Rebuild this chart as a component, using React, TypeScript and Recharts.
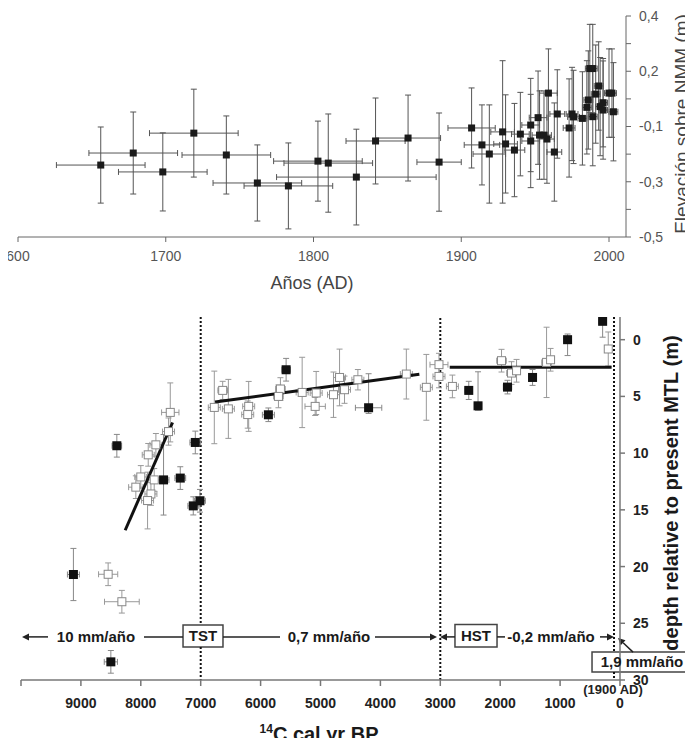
import React from "react";
import {
  ScatterChart, Scatter, XAxis, YAxis, ErrorBar,
  ReferenceLine, ReferenceArea, ReferenceDot,
} from "recharts";

const FONT = "Arial, 'Liberation Sans', Helvetica, sans-serif";

// ---- top panel: elevation vs years AD ----
const topYears = [
  1656, 1678, 1698, 1719, 1741, 1762, 1783, 1803, 1810, 1829,
  1842, 1864, 1885, 1907, 1914, 1919, 1928, 1930, 1936, 1940,
  1947, 1947, 1952, 1953, 1956, 1958, 1959, 1963, 1965, 1973,
  1975, 1976, 1982, 1985, 1986, 1987, 1989, 1989, 1991, 1993,
  1994, 1996, 1996, 2000, 2002, 2003,
];
const topElev = [
  -0.207, -0.158, -0.235, -0.077, -0.166, -0.28, -0.292, -0.191, -0.199, -0.256,
  -0.109, -0.097, -0.195, -0.056, -0.125, -0.162, -0.072, -0.121, -0.146, -0.081,
  -0.044, -0.109, -0.014, -0.085, -0.085, -0.101, 0.086, -0.154, 0.001, -0.056,
  0.001, -0.011, -0.017, 0.028, 0.058, 0.186, 0.186, -0.01, 0.082, 0.115,
  0.031, 0.047, 0.017, 0.086, 0.086, 0.01,
];
const topYearErr = [
  30, 30, 30, 30, 30, 30, 30, 30, 30, 54,
  20, 22, 15, 16, 12, 11, 8, 8, 7, 6,
  6, 6, 6, 5, 5, 5, 6, 5, 5, 4,
  4, 4, 3, 3, 3, 3, 3, 3, 3, 3,
  3, 3, 3, 3, 3, 3,
];
const topElevErr = [
  0.155, 0.167, 0.159, 0.179, 0.159, 0.155, 0.175, 0.163, 0.2, 0.195,
  0.175, 0.175, 0.2, 0.163, 0.163, 0.2, 0.29, 0.2, 0.19, 0.17,
  0.19, 0.19, 0.19, 0.18, 0.18, 0.18, 0.18, 0.2, 0.18, 0.2,
  0.19, 0.19, 0.19, 0.19, 0.2, 0.18, 0.18, 0.2, 0.2, 0.18,
  0.2, 0.18, 0.2, 0.18, 0.18, 0.2,
];
const topYearTicks = [1600, 1700, 1800, 1900, 2000];
const topElevTicks = [-0.5, -0.3875, -0.275, -0.1625, -0.05, 0.0625, 0.175, 0.2875, 0.4];
const topElevLabels = ["-0,5", "", "-0,3", "", "-0,1", "", "0,2", "", "0,4"];

// ---- bottom panel: depth vs 14C cal yr BP ----
const filledBP = [9125, 8500, 8400, 7620, 7341, 7090, 7124, 7012, 5870, 5574, 4197, 2525, 2370, 1878, 1460, 875, 290];
const filledDepth = [20.7, 28.4, 9.35, 12.36, 12.2, 9.06, 14.65, 14.2, 6.62, 2.65, 6.0, 4.47, 5.83, 4.18, 3.33, 0.0, -1.62];
const filledBPErr = [100, 110, 80, 90, 90, 90, 90, 90, 100, 70, 220, 60, 60, 70, 60, 60, 60];
const filledDepthErr = [
  [2.3, 2.3], [1, 1], [1, 1], [4, 3.1], [1, 1], [1, 1], [0.8, 0.8], [1, 1], [0.6, 0.6],
  [1, 1], [3, 0.5], [0.8, 0.8], [3, 0.4], [0.6, 0.6], [0.7, 0.7], [0.5, 1.4], [0.3, 1.4],
];

const openBP = [
  8545, 8316, 7508, 7537, 7748, 7876, 8000, 7776, 8083, 7831,
  7887, 6773, 6633, 6538, 6199, 6215, 5669, 5702, 5306, 5089,
  5072, 4783, 4682, 4599, 4376, 3567, 3233, 3022, 3022, 2798,
  1978, 1811, 1727, 1226, 1159, 196,
];
const openDepth = [
  20.68, 23.1, 6.41, 8.1, 9.27, 10.15, 12.1, 12.36, 13.0, 13.6,
  14.18, 5.97, 4.47, 6.1, 5.88, 6.6, 4.35, 5.0, 4.65, 5.88,
  4.7, 4.85, 3.33, 4.41, 3.53, 3.03, 4.2, 2.2, 3.24, 4.12,
  1.85, 2.94, 2.74, 2.0, 1.77, 0.82,
];
const openBPErr = [
  160, 290, 145, 100, 100, 100, 100, 100, 120, 100,
  100, 100, 80, 100, 100, 100, 80, 80, 100, 170,
  100, 100, 100, 100, 100, 100, 100, 150, 100, 100,
  80, 80, 60, 80, 60, 40,
];
const openDepthErr = [
  1, 1, 2.6, 1.2, 1, 1, 1, 1, 1, 1,
  2.5, 3.2, 0.8, 2.6, 2.2, 1.2, 1, 1, 3.1, 0.8,
  1.9, 2, 2.5, 1.2, 0.9, 2.2, 2.9, 1, 1, 1,
  1, 1, 1, 3.1, 1, 1.5,
];

const tstTrend = [{ x: 8261, y: 16.8 }, { x: 7470, y: 7.3 }];
const midTrend = [{ x: 6760, y: 5.5 }, { x: 3350, y: 3.05 }];
const hstTrend = [{ x: 2843, y: 2.44 }, { x: 140, y: 2.44 }];

const bpTicks = [0, 1000, 2000, 3000, 4000, 5000, 6000, 7000, 8000, 9000, 10000];
const depthTicks = [0, 5, 10, 15, 20, 25, 30];

const topData = topYears.map((x, i) => ({ x, y: topElev[i], ex: topYearErr[i], ey: topElevErr[i] }));
const filledData = filledBP.map((x, i) => ({ x, y: filledDepth[i], ex: filledBPErr[i], ey: filledDepthErr[i] }));
const openData = openBP.map((x, i) => ({ x, y: openDepth[i], ex: openBPErr[i], ey: openDepthErr[i] }));

const TopSquare = (p: any) => (
  <rect x={p.cx - 3.5} y={p.cy - 3.5} width={7} height={7} fill="#1b1b1b" />
);
const FilledSquare = (p: any) => (
  <rect x={p.cx - 4.5} y={p.cy - 4.5} width={9} height={9} fill="#111" />
);
const OpenSquare = (p: any) => (
  <rect x={p.cx - 4} y={p.cy - 4} width={8} height={8} fill="#fff" stroke="#888" strokeWidth={1} />
);

const arrowShape = (p: any) => {
  const { x1, y1, x2, y2 } = p;
  const a = Math.atan2(y2 - y1, x2 - x1);
  const bx = x2 - 7 * Math.cos(a);
  const by = y2 - 7 * Math.sin(a);
  const s = 3.5 * Math.sin(a);
  const c = 3.5 * Math.cos(a);
  return (
    <g>
      <line x1={x1} y1={y1} x2={bx} y2={by} stroke="#222" strokeWidth={1.5} />
      <polygon points={`${x2},${y2} ${bx - s},${by + c} ${bx + s},${by - c}`} fill="#222" />
    </g>
  );
};

const BpTick = ({ x, y, payload }: any) => {
  if (payload.value === 10000) return <g />;
  return (
    <g>
      {payload.value === 0 && (
        <text x={x - 7} y={y - 9} dy="0.35em" textAnchor="middle" fontSize={13} fontWeight={700} fontFamily={FONT} fill="#222">
          (1900 AD)
        </text>
      )}
      <text x={x} y={y} dy="0.71em" textAnchor="middle" fontSize={14} fontWeight={700} fontFamily={FONT} fill="#222">
        {payload.value}
      </text>
    </g>
  );
};

// axis titles, placed in chart pixels
const topXTitle = () => (
  <text x={312} y={283} dy="0.35em" textAnchor="middle" fontSize={18} fontFamily={FONT} fill="#444">
    Años (AD)
  </text>
);
const topYTitle = () => (
  <text x={681} y={124} dy="0.35em" textAnchor="middle" fontSize={19} fontFamily={FONT} fill="#444" transform="rotate(-90 681 124)">
    Elevación sobre NMM (m)
  </text>
);
const bottomXTitle = () => (
  <text x={319} y={441} textAnchor="middle" fontFamily={FONT} fontWeight={700} fill="#1a1a1a">
    <tspan fontSize={12} dy={-8}>14</tspan>
    <tspan fontSize={20} dy={8}>C cal yr BP</tspan>
  </text>
);
const bottomYTitle = () => (
  <text x={671} y={193} dy="0.35em" textAnchor="middle" fontSize={20} fontWeight={700} fontFamily={FONT} fill="#1a1a1a" transform="rotate(-90 671 193)">
    depth relative to present MTL (m)
  </text>
);

const annText = { fill: "#1a1a1a", fontSize: 15, fontWeight: 700, fontFamily: FONT, position: "center" as const };
const ax = { xAxisId: "bp", yAxisId: "depth" };
const ANN_Y = 26.2;

export default function App() {
  return (
    <div style={{ position: "relative", width: 693, height: 746, margin: -8, overflow: "hidden", background: "#fff" }}>
      <div style={{ position: "absolute", left: 0, top: 0 }}>
        <ScatterChart width={693} height={300} margin={{ top: 16, right: 0, bottom: 33, left: 18 }}>
          <XAxis
            type="number" dataKey="x" domain={[1600, 2011.5]} ticks={topYearTicks} allowDataOverflow height={30}
            axisLine={{ stroke: "#666" }} tickLine={{ stroke: "#666" }} tickSize={5} tickMargin={9}
            tick={{ fill: "#555", fontSize: 14, fontFamily: FONT }}
            tickFormatter={(v: number) => (v === 1600 ? "600" : String(v))}
            label={topXTitle}
          />
          <YAxis
            type="number" dataKey="y" orientation="right" width={67} domain={[-0.5, 0.4]} ticks={topElevTicks} allowDataOverflow
            axisLine={{ stroke: "#666" }} tickLine={{ stroke: "#666" }} tickSize={5} tickMargin={8}
            tick={{ fill: "#555", fontSize: 14, fontFamily: FONT, textAnchor: "start" }}
            tickFormatter={(v: number) => topElevLabels[topElevTicks.indexOf(v)] ?? ""}
            label={topYTitle}
          />
          <Scatter data={topData} shape={TopSquare} isAnimationActive={false}>
            <ErrorBar dataKey="ex" direction="x" width={3} stroke="#555" strokeWidth={1} isAnimationActive={false} />
            <ErrorBar dataKey="ey" direction="y" width={3} stroke="#555" strokeWidth={1} isAnimationActive={false} />
          </Scatter>
        </ScatterChart>
      </div>

      <div style={{ position: "absolute", left: 0, top: 300 }}>
        <ScatterChart width={693} height={446} margin={{ top: 17, right: 0, bottom: 26, left: 21 }}>
          <XAxis
            xAxisId="bp" type="number" dataKey="x" domain={[0, 10000]} reversed ticks={bpTicks} allowDataOverflow height={40}
            axisLine={{ stroke: "#777", strokeWidth: 1.5 }} tickLine={{ stroke: "#777", strokeWidth: 1.5 }}
            tickSize={6} tickMargin={12} tick={BpTick} label={bottomXTitle}
          />
          <XAxis
            xAxisId="top" orientation="top" mirror type="number" domain={[0, 10000]} reversed ticks={bpTicks} allowDataOverflow height={0}
            axisLine={{ stroke: "#777", strokeWidth: 1.5 }} tickLine={{ stroke: "#777", strokeWidth: 1.5 }}
            tickSize={5} tickFormatter={() => ""}
          />
          <YAxis
            yAxisId="depth" type="number" dataKey="y" orientation="right" width={73} domain={[-2, 30]} reversed ticks={depthTicks} allowDataOverflow
            axisLine={{ stroke: "#777", strokeWidth: 1.5 }} tickLine={{ stroke: "#777", strokeWidth: 1.5 }}
            tickSize={5} tickMargin={8}
            tick={{ fill: "#222", fontSize: 14, fontWeight: 700, fontFamily: FONT, textAnchor: "start" }}
            label={bottomYTitle}
          />
          <YAxis
            yAxisId="frame" orientation="left" mirror width={0} type="number" domain={[-2, 30]} reversed allowDataOverflow
            tick={false} axisLine={{ stroke: "#777", strokeWidth: 1.5 }}
          />

          {/* period boundaries */}
          <ReferenceLine {...ax} segment={[{ x: 7000, y: -2 }, { x: 7000, y: 25.15 }]} stroke="#111" strokeWidth={2} strokeDasharray="2 2" />
          <ReferenceLine {...ax} segment={[{ x: 7000, y: 27.1 }, { x: 7000, y: 30 }]} stroke="#111" strokeWidth={2} strokeDasharray="2 2" />
          <ReferenceLine {...ax} x={3000} stroke="#111" strokeWidth={2} strokeDasharray="2 2" />
          <ReferenceLine {...ax} segment={[{ x: 100, y: -2 }, { x: 100, y: 27.54 }]} stroke="#111" strokeWidth={2} strokeDasharray="2 2" />
          <ReferenceLine {...ax} segment={[{ x: 100, y: 29.3 }, { x: 100, y: 30 }]} stroke="#111" strokeWidth={2} strokeDasharray="2 2" />

          <Scatter {...ax} data={openData} shape={OpenSquare} isAnimationActive={false}>
            <ErrorBar dataKey="ex" direction="x" width={3} stroke="#999" strokeWidth={1} isAnimationActive={false} />
            <ErrorBar dataKey="ey" direction="y" width={3} stroke="#999" strokeWidth={1} isAnimationActive={false} />
          </Scatter>
          <Scatter {...ax} data={filledData} shape={FilledSquare} isAnimationActive={false}>
            <ErrorBar dataKey="ex" direction="x" width={3} stroke="#888" strokeWidth={1} isAnimationActive={false} />
            <ErrorBar dataKey="ey" direction="y" width={3} stroke="#888" strokeWidth={1} isAnimationActive={false} />
          </Scatter>

          {/* trend lines */}
          <ReferenceLine {...ax} segment={tstTrend} stroke="#111" strokeWidth={3} />
          <ReferenceLine {...ax} segment={midTrend} stroke="#111" strokeWidth={3} />
          <ReferenceLine {...ax} segment={hstTrend} stroke="#111" strokeWidth={3} />

          {/* rate annotations */}
          <ReferenceLine {...ax} segment={[{ x: 9549, y: ANN_Y }, { x: 9983, y: ANN_Y }]} shape={arrowShape} />
          <ReferenceDot {...ax} x={8748} y={ANN_Y} r={0} fill="none" stroke="none" label={{ value: "10 mm/año", ...annText }} />
          <ReferenceLine {...ax} segment={[{ x: 7947, y: ANN_Y }, { x: 7295, y: ANN_Y }]} stroke="#222" strokeWidth={1.5} />
          <ReferenceArea {...ax} x1={7295} x2={6628} y1={25.15} y2={27.1} fill="#fff" fillOpacity={1} stroke="#444" strokeWidth={1.5}
            label={{ value: "TST", ...annText }} />
          <ReferenceLine {...ax} segment={[{ x: 6628, y: ANN_Y }, { x: 5676, y: ANN_Y }]} stroke="#222" strokeWidth={1.5} />
          <ReferenceDot {...ax} x={4858} y={ANN_Y} r={0} fill="none" stroke="none" label={{ value: "0,7 mm/año", ...annText }} />
          <ReferenceLine {...ax} segment={[{ x: 4090, y: ANN_Y }, { x: 3055, y: ANN_Y }]} shape={arrowShape} />
          <ReferenceLine {...ax} segment={[{ x: 2755, y: ANN_Y }, { x: 3005, y: ANN_Y }]} shape={arrowShape} />
          <ReferenceArea {...ax} x1={2755} x2={2053} y1={25.1} y2={27.1} fill="#fff" fillOpacity={1} stroke="#444" strokeWidth={1.5}
            label={{ value: "HST", ...annText }} />
          <ReferenceLine {...ax} segment={[{ x: 2053, y: ANN_Y }, { x: 1920, y: ANN_Y }]} stroke="#222" strokeWidth={1.5} />
          <ReferenceDot {...ax} x={1152} y={ANN_Y} r={0} fill="none" stroke="none" label={{ value: "-0,2 mm/año", ...annText }} />
          <ReferenceLine {...ax} segment={[{ x: 334, y: ANN_Y }, { x: 100, y: ANN_Y }]} shape={arrowShape} />
          <ReferenceLine {...ax} segment={[{ x: -217, y: 27.54 }, { x: 33, y: 26.3 }]} shape={arrowShape} ifOverflow="visible" />
          <ReferenceArea {...ax} x1={467} x2={-1202} y1={27.54} y2={29.3} fill="#fff" fillOpacity={1} stroke="#444" strokeWidth={1.5}
            ifOverflow="visible" label={{ value: "1,9 mm/año", ...annText }} />
        </ScatterChart>
      </div>
    </div>
  );
}
